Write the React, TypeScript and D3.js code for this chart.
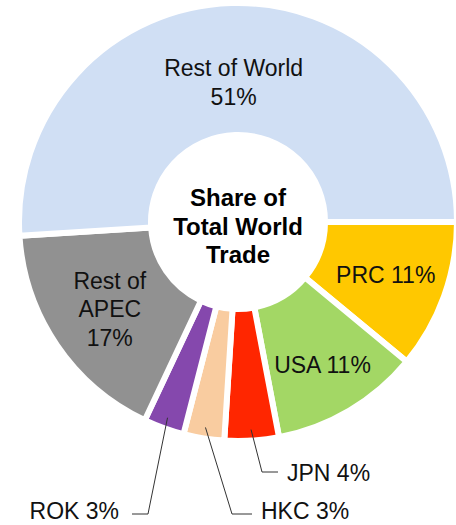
import React from "react";
import * as d3 from "d3";

const categories = ["PRC", "USA", "JPN", "HKC", "ROK", "Rest of APEC", "Rest of World"];
const shares = [11, 11, 4, 3, 3, 17, 51];
const colors = ["#ffc800", "#a3d765", "#ff2600", "#f9cca0", "#8548ad", "#919191", "#d0dff4"];
const centerTitle = ["Share of", "Total World", "Trade"];

const W = 456;
const H = 525;
const cx = 238;
const cy = 222;
const inner = 87;
const outer = 219;
const gap = 6;
const font = "Helvetica, 'Liberation Sans', Arial, sans-serif";

// label layout for big slices: line arrays + label radius
const insideLabels: Record<string, { lines: string[]; r: number }> = {
  "PRC": { lines: ["PRC 11%"], r: 157 },
  "USA": { lines: ["USA 11%"], r: 166 },
  "Rest of APEC": { lines: ["Rest of", "APEC", "17%"], r: 155 },
  "Rest of World": { lines: ["Rest of World", "51%"], r: 140 },
};

// callout layout for small slices (offsets relative to chart centre)
const callouts: Record<string, { text: string; elbow: [number, number]; endDx: number; anchor: "start" | "end"; dy: number }> = {
  "JPN": { text: "JPN 4%", elbow: [24, 250], endDx: 16, anchor: "start", dy: 8.7 },
  "HKC": { text: "HKC 3%", elbow: [-6, 292], endDx: 20, anchor: "start", dy: 5 },
  "ROK": { text: "ROK 3%", elbow: [-90, 292], endDx: -16, anchor: "end", dy: 5 },
};

export default function App() {
  const pie = d3
    .pie<number>()
    .sort(null)
    .startAngle(Math.PI / 2)
    .endAngle(Math.PI / 2 + 2 * Math.PI)
    .value((d) => d);
  const arcs = pie(shares);
  const arc = d3.arc<d3.PieArcDatum<number>>().innerRadius(inner).outerRadius(outer);
  const lineH = 28.5;
  const fs = 23;
  const tfs = 24;

  const polar = (a: number, r: number): [number, number] => [r * Math.sin(a), -r * Math.cos(a)];

  return (
    <svg
      width={W}
      height={H}
      style={{ position: "fixed", left: 0, top: 0, background: "#fff" }}
      fontFamily={font}
    >
      <g transform={`translate(${cx},${cy})`}>
        {arcs.map((a, i) => (
          <path key={categories[i]} d={arc(a) || ""} fill={colors[i]} stroke="#fff" strokeWidth={gap} strokeLinejoin="miter" />
        ))}
        {arcs.map((a, i) => {
          const name = categories[i];
          const mid = (a.startAngle + a.endAngle) / 2;
          const lab = insideLabels[name];
          if (lab) {
            const [x, y] = polar(mid, lab.r);
            const n = lab.lines.length;
            return (
              <text key={"l" + name} x={x} y={y} textAnchor="middle" fontSize={fs} fill="#111">
                {lab.lines.map((t, k) => (
                  <tspan key={k} x={x} y={y + (k - (n - 1) / 2) * lineH + fs * 0.36}>
                    {t}
                  </tspan>
                ))}
              </text>
            );
          }
          const c = callouts[name];
          if (!c) return null;
          const [sx, sy] = polar(mid, 208);
          const [ex, ey] = c.elbow;
          const endX = ex + c.endDx;
          const tx = endX + (c.anchor === "start" ? 9 : -13);
          return (
            <g key={"c" + name}>
              <polyline
                points={`${sx},${sy} ${ex},${ey} ${endX},${ey}`}
                fill="none"
                stroke="#333"
                strokeWidth={1}
              />
              <text x={tx} y={ey + c.dy} textAnchor={c.anchor} fontSize={fs} fill="#111">
                {c.text}
              </text>
            </g>
          );
        })}
        <text textAnchor="middle" fontSize={tfs} fontWeight="bold" fill="#000">
          {centerTitle.map((t, k) => (
            <tspan key={k} x={0} y={(k - 1) * lineH + tfs * 0.36 + 4}>
              {t}
            </tspan>
          ))}
        </text>
      </g>
    </svg>
  );
}
